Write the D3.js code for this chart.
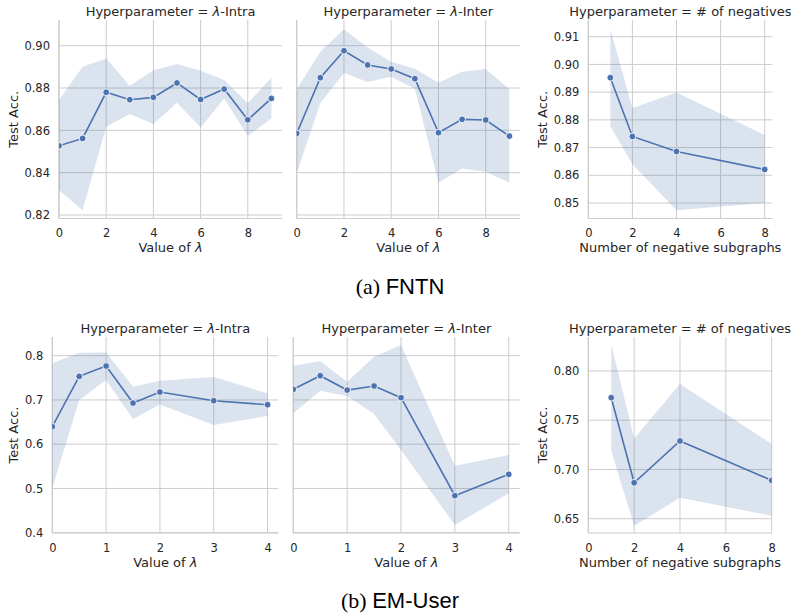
<!DOCTYPE html>
<html>
<head>
<meta charset="utf-8">
<script src="https://cdn.jsdelivr.net/npm/d3@7"></script>
<style>
  body { margin: 0; background: #fff; }
  svg { display: block; font-family: "DejaVu Sans", sans-serif; }
</style>
</head>
<body>
<script>
// ---- FNTN ----
const fntnLambda = [0, 1, 2, 3, 4, 5, 6, 7, 8, 9];
const fntnIntraMean = [0.8527, 0.8562, 0.8780, 0.8745, 0.8756, 0.8824, 0.8746, 0.8795, 0.8650, 0.8751];
const fntnIntraHi = [0.8743, 0.8901, 0.8940, 0.8811, 0.8884, 0.8913, 0.8882, 0.8838, 0.8728, 0.8850];
const fntnIntraLo = [0.8317, 0.8223, 0.8617, 0.8677, 0.8630, 0.8730, 0.8614, 0.8751, 0.8573, 0.8657];
const fntnInterMean = [0.8586, 0.8849, 0.8976, 0.8909, 0.8890, 0.8844, 0.8589, 0.8652, 0.8649, 0.8573];
const fntnInterHi = [0.8794, 0.8972, 0.9078, 0.8991, 0.8924, 0.8891, 0.8825, 0.8877, 0.8890, 0.8794];
const fntnInterLo = [0.8399, 0.8728, 0.8872, 0.8828, 0.8853, 0.8797, 0.8352, 0.8420, 0.8404, 0.8352];
const negCounts = [1, 2, 4, 8];
const fntnNegMean = [0.8952, 0.8740, 0.8686, 0.8621];
const fntnNegHi = [0.9127, 0.8843, 0.8899, 0.8745];
const fntnNegLo = [0.8777, 0.8640, 0.8474, 0.8500];

// ---- EM-User ----
const emLambda = [0, 0.5, 1, 1.5, 2, 3, 4];
const emIntraMean = [0.6396, 0.7533, 0.7767, 0.6930, 0.7179, 0.6983, 0.6893];
const emIntraHi = [0.7827, 0.8068, 0.8075, 0.7300, 0.7435, 0.7518, 0.7149];
const emIntraLo = [0.5003, 0.6998, 0.7450, 0.6570, 0.6900, 0.6434, 0.6637];
const emInterMean = [0.7240, 0.7548, 0.7224, 0.7315, 0.7051, 0.4837, 0.5320];
const emInterHi = [0.7774, 0.7880, 0.7413, 0.7977, 0.8241, 0.5515, 0.5756];
const emInterLo = [0.6697, 0.7210, 0.7089, 0.6682, 0.5869, 0.4175, 0.4890];
const emNegMean = [0.7729, 0.6865, 0.7289, 0.6889];
const emNegHi = [0.8271, 0.7315, 0.7868, 0.7258];
const emNegLo = [0.7190, 0.6428, 0.6713, 0.6530];

// ---- ticks ----
const fntnLambdaTicks = [0, 2, 4, 6, 8];
const emLambdaTicks = [0, 1, 2, 3, 4];
const negTicks = [0, 2, 4, 6, 8];
const fntnAccTicks = [0.82, 0.84, 0.86, 0.88, 0.90];
const fntnNegAccTicks = [0.85, 0.86, 0.87, 0.88, 0.89, 0.90, 0.91];
const emAccTicks = [0.4, 0.5, 0.6, 0.7, 0.8];
const emNegAccTicks = [0.65, 0.70, 0.75, 0.80];

const width = 791, height = 613;
const blue = "#4c72b0", grid = "#cccccc", ink = "#262626";

const svg = d3.select("body").append("svg")
  .attr("width", width)
  .attr("height", height);

const panels = [
  { hp: ["λ", "-Intra"], xs: fntnLambda, mean: fntnIntraMean, lo: fntnIntraLo, hi: fntnIntraHi,
    l: 59, r: 282, t: 20, b: 218.5, xd: [0, 9.45], yd: [0.81835, 0.91215],
    xt: fntnLambdaTicks, yt: fntnAccTicks, fmt: ".2f", xl: "lambda", yl: true },
  { hp: ["λ", "-Inter"], xs: fntnLambda, mean: fntnInterMean, lo: fntnInterLo, hi: fntnInterHi,
    l: 296.7, r: 520, t: 20, b: 218.5, xd: [0, 9.45], yd: [0.81835, 0.91215],
    xt: fntnLambdaTicks, yt: fntnAccTicks, fmt: null, xl: "lambda", yl: false },
  { hp: ["", "# of negatives"], xs: negCounts, mean: fntnNegMean, lo: fntnNegLo, hi: fntnNegHi,
    l: 588.3, r: 772.4, t: 20, b: 218.5, xd: [0, 8.35], yd: [0.84441, 0.91602],
    xt: negTicks, yt: fntnNegAccTicks, fmt: ".2f", xl: "neg", yl: true },
  { hp: ["λ", "-Intra"], xs: emLambda, mean: emIntraMean, lo: emIntraLo, hi: emIntraHi,
    l: 52.3, r: 278.3, t: 337, b: 533, xd: [0, 4.2], yd: [0.3993, 0.8423],
    xt: emLambdaTicks, yt: emAccTicks, fmt: ".1f", xl: "lambda", yl: true },
  { hp: ["λ", "-Inter"], xs: emLambda, mean: emInterMean, lo: emInterLo, hi: emInterHi,
    l: 293.3, r: 519.5, t: 337, b: 533, xd: [0, 4.2], yd: [0.3993, 0.8423],
    xt: emLambdaTicks, yt: emAccTicks, fmt: null, xl: "lambda", yl: false },
  { hp: ["", "# of negatives"], xs: negCounts, mean: emNegMean, lo: emNegLo, hi: emNegHi,
    l: 588.3, r: 771.7, t: 337, b: 533, xd: [0, 8], yd: [0.6355, 0.8345],
    xt: negTicks, yt: emNegAccTicks, fmt: ".2f", xl: "neg", yl: true }
];

panels.forEach((p, i) => {
  const w = p.r - p.l, h = p.b - p.t;
  const x = d3.scaleLinear().domain(p.xd).range([0, w]);
  const y = d3.scaleLinear().domain(p.yd).range([h, 0]);
  const g = svg.append("g").attr("transform", `translate(${p.l},${p.t})`);

  g.append("clipPath").attr("id", `clip${i}`)
    .append("rect").attr("width", w).attr("height", h);

  // grid
  g.selectAll("line.vg").data(p.xt).join("line")
    .attr("class", "vg")
    .attr("x1", d => x(d)).attr("x2", d => x(d))
    .attr("y1", 0).attr("y2", h)
    .attr("stroke", grid).attr("stroke-width", 1);
  g.selectAll("line.hg").data(p.yt).join("line")
    .attr("class", "hg")
    .attr("x1", 0).attr("x2", w)
    .attr("y1", d => y(d)).attr("y2", d => y(d))
    .attr("stroke", grid).attr("stroke-width", 1);

  // spines (left + bottom)
  g.append("line").attr("x1", 0).attr("x2", 0).attr("y1", 0).attr("y2", h)
    .attr("stroke", grid).attr("stroke-width", 1.2);
  g.append("line").attr("x1", 0).attr("x2", w).attr("y1", h).attr("y2", h)
    .attr("stroke", grid).attr("stroke-width", 1.2);

  const idx = d3.range(p.xs.length);
  const plot = g.append("g").attr("clip-path", `url(#clip${i})`);

  plot.append("path")
    .attr("d", d3.area().x(j => x(p.xs[j])).y0(j => y(p.lo[j])).y1(j => y(p.hi[j]))(idx))
    .attr("fill", blue).attr("fill-opacity", 0.2);

  plot.append("path")
    .attr("d", d3.line().x(j => x(p.xs[j])).y(j => y(p.mean[j]))(idx))
    .attr("fill", "none").attr("stroke", blue).attr("stroke-width", 1.6);

  plot.selectAll("circle").data(idx).join("circle")
    .attr("cx", j => x(p.xs[j])).attr("cy", j => y(p.mean[j]))
    .attr("r", 3.4).attr("fill", blue)
    .attr("stroke", "#fff").attr("stroke-width", 0.9);

  // tick labels
  const xa = g.append("g").attr("transform", `translate(0,${h})`)
    .call(d3.axisBottom(x).tickValues(p.xt).tickSize(0).tickPadding(10.8).tickFormat(d3.format("d")));
  xa.select(".domain").remove();
  xa.selectAll("text").attr("font-size", 11.5).attr("fill", ink).attr("font-family", "DejaVu Sans");

  if (p.fmt) {
    const ya = g.append("g")
      .call(d3.axisLeft(y).tickValues(p.yt).tickSize(0).tickPadding(9).tickFormat(d3.format(p.fmt)));
    ya.select(".domain").remove();
    ya.selectAll("text").attr("font-size", 11.5).attr("fill", ink).attr("font-family", "DejaVu Sans");
  }

  // title
  const title = g.append("text")
    .attr("x", w / 2).attr("y", -4)
    .attr("text-anchor", "middle")
    .attr("font-size", 13).attr("fill", ink);
  title.append("tspan").text("Hyperparameter = " + (p.hp[0] ? "" : p.hp[1]));
  if (p.hp[0]) {
    title.append("tspan").attr("font-style", "italic").text(p.hp[0]);
    title.append("tspan").text(p.hp[1]);
  }

  // x label
  const xl = g.append("text")
    .attr("x", w / 2).attr("y", h + 33.5)
    .attr("text-anchor", "middle")
    .attr("font-size", 13).attr("fill", ink);
  if (p.xl === "lambda") {
    xl.append("tspan").text("Value of ");
    xl.append("tspan").attr("font-style", "italic").text("λ");
  } else {
    xl.text("Number of negative subgraphs");
  }

  // y label
  if (p.yl) {
    const lx = p.l < 300 ? 18 : 547;
    svg.append("text")
      .attr("transform", `translate(${lx},${p.t + h / 2}) rotate(-90)`)
      .attr("text-anchor", "middle")
      .attr("font-size", 13).attr("fill", ink)
      .text("Test Acc.");
  }
});

// sub-figure captions
const captions = [["(a) ", "FNTN", 294], ["(b) ", "EM-User", 607.5]];
captions.forEach(c => {
  const t = svg.append("text")
    .attr("x", 400).attr("y", c[2])
    .attr("text-anchor", "middle")
    .attr("font-size", 22).attr("fill", "#000");
  t.append("tspan").attr("font-family", "Liberation Serif").text(c[0]);
  t.append("tspan").attr("font-family", "Liberation Sans").text(c[1]);
});
</script>
</body>
</html>
